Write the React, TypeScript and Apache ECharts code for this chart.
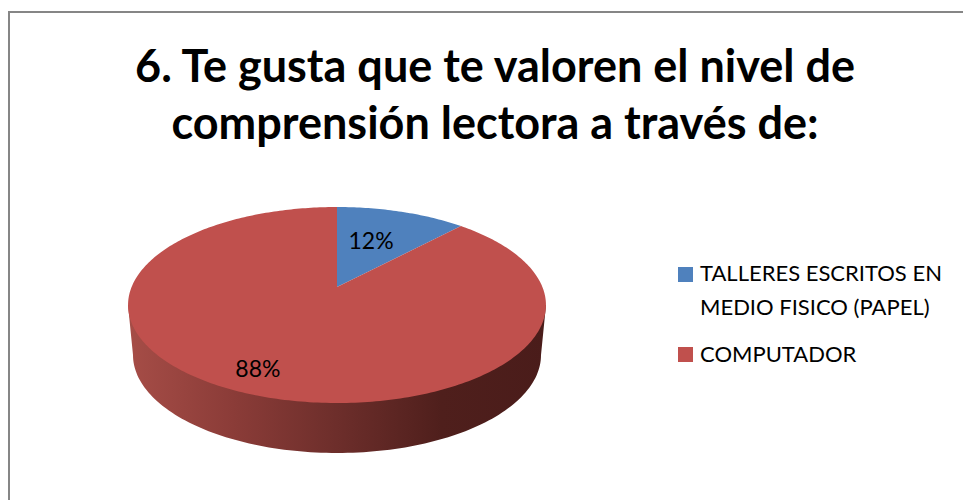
import React, { useEffect, useRef } from "react";
import * as echarts from "echarts";

const titleLines = ["6. Te gusta que te valoren el nivel de", "comprensión lectora a través de:"];
const categories = ["TALLERES ESCRITOS EN\nMEDIO FISICO (PAPEL)", "COMPUTADOR"];
const values = [12, 88];
const colors = ["#4f81bd", "#c0504d"];

const FONT = "Lato";
const CX = 337, APEX_Y = 287, K = 205.4, A = 94.7, C = -0.1837;
const DEPTH = 50, BOTTOM_RX = 204, RX = 209, RY = 98, CY = 305;
const total = values.reduce((s, v) => s + v, 0);

// perspective projection of a point on the unit disc (angle clockwise from 12 o'clock)
const project = (theta: number, r = 1): [number, number] => {
  const u = r * Math.sin(theta);
  const v = -r * Math.cos(theta);
  const d = 1 + C * v;
  return [CX + (K * u) / d, APEX_Y + (A * v) / d];
};

const renderItem = (params: any, api: any) => {
  const i = params.dataIndex;
  const before = values.slice(0, i).reduce((s, v) => s + v, 0);
  const start = (before / total) * Math.PI * 2;
  const end = ((before + api.value(0)) / total) * Math.PI * 2;
  const pts: [number, number][] = [[CX, APEX_Y]];
  const steps = Math.max(8, Math.ceil((end - start) * 60));
  for (let s = 0; s <= steps; s++) pts.push(project(start + ((end - start) * s) / steps));

  const children: any[] = [];
  if (end - start > Math.PI) {
    const side: [number, number][] = [[CX + RX, CY], [CX - RX, CY]];
    for (let s = 0; s <= 120; s++) {
      const t = Math.PI - (Math.PI * s) / 120;
      side.push([CX + BOTTOM_RX * Math.cos(t), CY + DEPTH + RY * Math.sin(t)]);
    }
    children.push({
      type: "polygon",
      shape: { points: side },
      style: {
        fill: new echarts.graphic.LinearGradient(0, 0, 1, 0, [
          { offset: 0, color: "#a64d47" },
          { offset: 0.25, color: "#8b3c38" },
          { offset: 0.5, color: "#6d2e2b" },
          { offset: 0.75, color: "#4f1f1c" },
          { offset: 1, color: "#4a1c1a" },
        ]),
      },
    });
  }
  children.push({ type: "polygon", shape: { points: pts }, style: { fill: colors[i] } });

  const mid = (start + end) / 2;
  const [lx, ly] = project(mid, i === 0 ? 0.55 : 0.8);
  children.push({
    type: "text",
    x: lx + (i === 0 ? -4 : -9),
    y: ly + (i === 0 ? -3 : -1),
    style: {
      text: `${Math.round((api.value(0) / total) * 100)}%`,
      font: `23px ${FONT}`,
      fill: "#000",
      align: "center",
      verticalAlign: "middle",
    },
  });
  return { type: "group", children };
};

export default function App() {
  const ref = useRef<HTMLDivElement>(null);
  useEffect(() => {
    document.body.style.margin = "0";
    const chart = echarts.init(ref.current!, undefined, { renderer: "svg" });
    chart.setOption({
      animation: false,
      backgroundColor: "#fff",
      title: {
        text: titleLines.join("\n"),
        left: 490,
        top: 31,
        textAlign: "center",
        textStyle: { fontFamily: FONT, fontWeight: "bold", fontSize: 45, lineHeight: 57, color: "#000" },
      },
      series: [
        {
          type: "custom",
          coordinateSystem: "none",
          clip: false,
          renderItem,
          data: values.map((v, i) => ({ name: categories[i], value: v })),
        },
      ],
      graphic: [
        { type: "line", shape: { x1: 9, y1: 12, x2: 963, y2: 12 }, style: { stroke: "#868686", lineWidth: 2 } },
        { type: "line", shape: { x1: 9, y1: 11, x2: 9, y2: 500 }, style: { stroke: "#868686", lineWidth: 2 } },
        { type: "rect", shape: { x: 678, y: 267, width: 15, height: 15 }, style: { fill: colors[0] } },
        {
          type: "text",
          x: 700,
          y: 255,
          style: { text: categories[0], font: `22px ${FONT}`, lineHeight: 34, fill: "#000" },
        },
        { type: "rect", shape: { x: 678, y: 347, width: 15, height: 15 }, style: { fill: colors[1] } },
        {
          type: "text",
          x: 700,
          y: 336,
          style: { text: categories[1], font: `22px ${FONT}`, lineHeight: 34, fill: "#000" },
        },
      ],
    });
    return () => chart.dispose();
  }, []);
  return <div ref={ref} style={{ width: 963, height: 500 }} />;
}
